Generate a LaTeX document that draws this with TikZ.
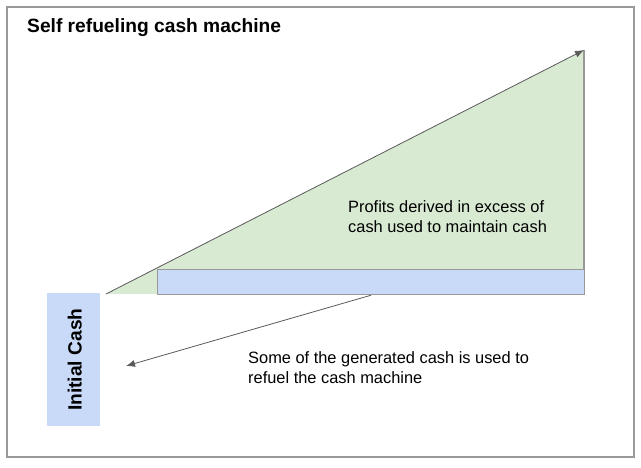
\documentclass[tikz,border=0pt]{standalone}
\usepackage{fontspec}
\setmainfont{Liberation Sans}
\usetikzlibrary{arrows.meta,positioning}
\definecolor{profit}{HTML}{D9EAD3}
\definecolor{cashblue}{HTML}{C9DAF8}
\definecolor{edgegray}{HTML}{999999}
\definecolor{arrowgray}{HTML}{595959}

\begin{document}
\begin{tikzpicture}[
  x=1pt, y=-1pt,
  note/.style={align=left, font=\fontsize{16.4}{20}\selectfont, inner sep=0pt, anchor=base west},
  heading/.style={font=\fontsize{19.2}{22}\selectfont\bfseries},
  cash/.style={fill=cashblue, inner sep=0pt},
  flow/.style={-{Latex[length=9pt, width=7pt]}, draw=arrowgray, line width=0.8pt}
]

\useasboundingbox (0,0) rectangle (641,468);

% Frame and title.
\draw[edgegray, line width=1.6pt] (7,7) rectangle (634,457);
\node[heading, anchor=base west, inner sep=0pt] (title) at (27,33) {Self refueling cash machine};

% Growth triangle.
\coordinate (origin) at (106,294);
\coordinate (peak) at (584,50);
\fill[profit] (origin) -- (peak) -- (584,269) -- (157,269) -- (157,294) -- cycle;
\draw[edgegray, line width=1.6pt] (peak) -- (584,269);

% Cash used to refuel.
\node[cash, draw=edgegray, line width=1.2pt, anchor=north west, minimum width=427pt, minimum height=25pt] (refuel) at (157,269) {};

% Starting cash.
\node[cash, anchor=north west, minimum width=53pt, minimum height=133pt] (initial) at (47,293) {};
\node[heading, rotate=90] (initlabel) at ([xshift=1pt]initial.center) {Initial Cash};

\draw[flow] (origin) -- (peak);

% Labels (base = last line).
\node[note] (profits) at (348,233) {Profits derived in excess of\\cash used to maintain cash};
\node[note] (some) at (248,383) {Some of the generated cash is used to\\refuel the cash machine};

\coordinate (back) at (126,366);
\draw[flow] (refuel.south) -- (back);

\end{tikzpicture}
\end{document}
